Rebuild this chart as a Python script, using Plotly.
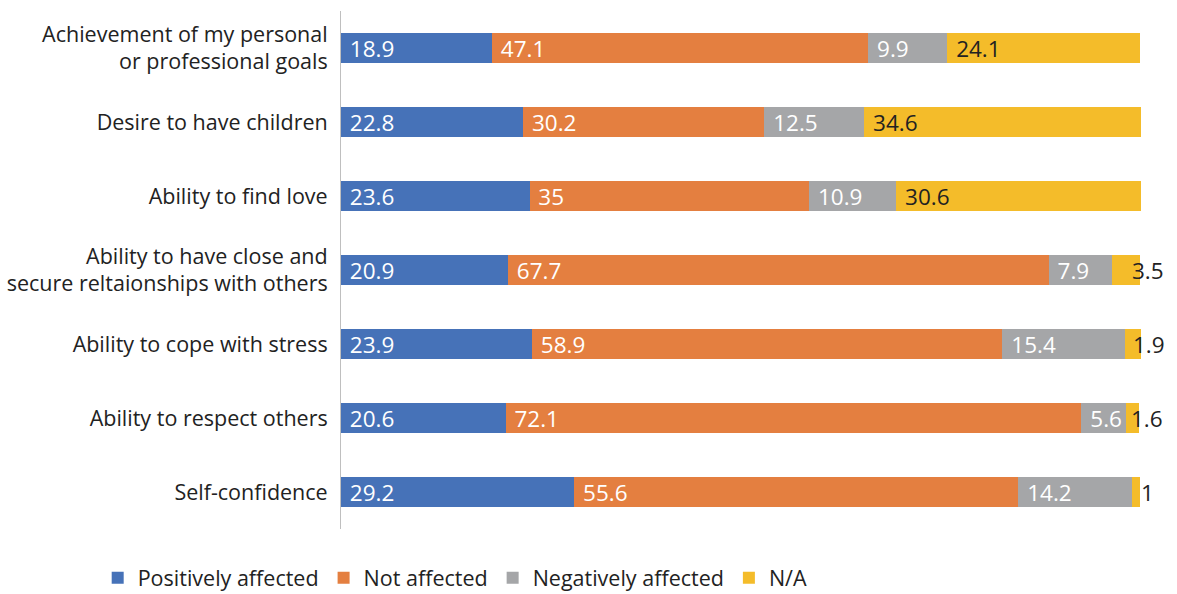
import plotly.graph_objects as go

categories = [
    "Achievement of my personal<br>or professional goals",
    "Desire to have children",
    "Ability to find love",
    "Ability to have close and<br>secure reltaionships with others",
    "Ability to cope with stress",
    "Ability to respect others",
    "Self-confidence",
]
positively = [18.9, 22.8, 23.6, 20.9, 23.9, 20.6, 29.2]
not_affected = [47.1, 30.2, 35, 67.7, 58.9, 72.1, 55.6]
negatively = [9.9, 12.5, 10.9, 7.9, 15.4, 5.6, 14.2]
na = [24.1, 34.6, 30.6, 3.5, 1.9, 1.6, 1]

series = [
    ("Positively affected", positively, "#4672B8", "white"),
    ("Not affected", not_affected, "#E47F40", "white"),
    ("Negatively affected", negatively, "#A5A6A8", "white"),
    ("N/A", na, "#F4BC2A", "#222222"),
]

FONT = "Open Sans, Roboto, sans-serif"
LBL = 22.5
SMALL = 5

fig = go.Figure()
for name, vals, color, tcolor in series:
    if name == "N/A":
        txt = ["\u00a0" + f"{v:g}" if v > SMALL else "" for v in vals]
    else:
        txt = ["\u00a0" + f"{v:g}" for v in vals]
    fig.add_trace(go.Bar(
        y=categories, x=vals, name=name, orientation="h",
        marker=dict(color=color, line=dict(width=0)),
        text=txt, textposition="inside",
        insidetextanchor="start",
        textfont=dict(family=FONT, size=LBL, color=tcolor),
        constraintext="none",
        width=0.41,
        hoverinfo="x+name",
    ))

# small N/A values shown just past the end of each bar
for i, cat in enumerate(categories):
    if na[i] <= SMALL:
        total = positively[i] + not_affected[i] + negatively[i] + na[i]
        fig.add_annotation(
            x=total, y=cat, xref="x", yref="y", text=f"{na[i]:g}",
            showarrow=False, xanchor="center", xshift=8,
            font=dict(family=FONT, size=LBL, color="#222222"),
        )

fig.update_layout(
    barmode="stack",
    width=1177, height=594,
    margin=dict(l=341, r=36, t=11, b=65),
    paper_bgcolor="white", plot_bgcolor="white",
    font=dict(family=FONT, size=21, color="#222222"),
    showlegend=True,
    legend=dict(orientation="h", traceorder="normal", xref="container", x=0.083,
                yref="container", y=0.062, yanchor="top", xanchor="left",
                font=dict(family=FONT, size=21.5, color="#222222"),
                itemwidth=30, itemclick=False),
    xaxis=dict(range=[0, 100.15], visible=False, fixedrange=True),
    yaxis=dict(categoryorder="array", categoryarray=categories[::-1],
               showline=True, linecolor="#BFBFBF", linewidth=1, automargin=False,
               ticks="", ticklabelstandoff=8, showgrid=False,
               tickfont=dict(family=FONT, size=21.5, color="#222222")),
)

fig.write_html("out.html")
